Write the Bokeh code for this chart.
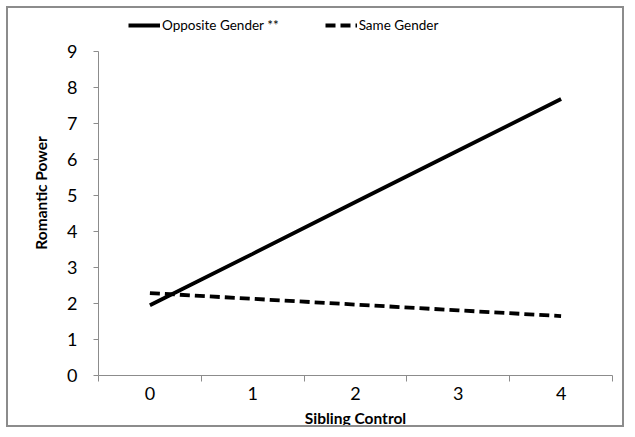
from bokeh.plotting import figure
from bokeh.models import FixedTicker, Legend, LegendItem, Range1d
from bokeh.embed import file_html
from bokeh.resources import INLINE

# Data
categories = [0, 1, 2, 3, 4]
cat_labels = ["0", "1", "2", "3", "4"]
opposite_gender = [1.95, 3.38, 4.82, 6.25, 7.68]
same_gender = [2.29, 2.13, 1.97, 1.81, 1.65]
y_ticks = [0, 1, 2, 3, 4, 5, 6, 7, 8, 9]

FONT = "Lato"
AXIS_GRAY = "#8c8c8c"

# frame extends above the top tick so the legend can sit inside it;
# the y axis line itself is bounded to 0..9
p = figure(width=618, height=421, output_backend="svg", toolbar_location=None,
           x_range=Range1d(-0.5, 4.5), y_range=Range1d(0, 10.14),
           min_border_left=90, min_border_right=14, min_border_top=2, min_border_bottom=54)
p.styles = {"border": "2px solid #8c8c8c", "margin-left": "6px", "margin-top": "6px"}
p.outline_line_color = None
p.xgrid.visible = False
p.ygrid.visible = False
p.background_fill_color = "white"
p.border_fill_color = "white"

r1 = p.line(categories, opposite_gender, line_color="black", line_width=3.8)
r2 = p.line(categories, same_gender, line_color="black", line_width=3.8, line_dash="10 5")

# x axis: labels centred on categories, tick marks between categories
xa = p.xaxis[0]
xa.ticker = FixedTicker(ticks=categories, minor_ticks=[c - 0.5 for c in categories] + [categories[-1] + 0.5])
xa.major_label_overrides = {c: l for c, l in zip(categories, cat_labels)}
xa.major_tick_out = 0
xa.major_tick_in = 0
xa.minor_tick_out = 6
xa.minor_tick_in = 0
xa.minor_tick_line_color = AXIS_GRAY
xa.axis_line_color = AXIS_GRAY
xa.major_label_text_font = FONT
xa.major_label_text_font_size = "18px"
xa.major_label_text_color = "black"
xa.major_label_standoff = 5
xa.axis_label = "Sibling Control"
xa.axis_label_text_font = FONT
xa.axis_label_text_font_style = "bold"
xa.axis_label_text_font_size = "15.5px"
xa.axis_label_text_color = "black"
xa.axis_label_standoff = 6

ya = p.yaxis[0]
ya.ticker = FixedTicker(ticks=y_ticks, minor_ticks=[])
ya.bounds = (y_ticks[0], y_ticks[-1])
ya.major_tick_out = 5
ya.major_tick_in = 0
ya.major_tick_line_color = AXIS_GRAY
ya.axis_line_color = AXIS_GRAY
ya.major_label_text_font = FONT
ya.major_label_text_font_size = "18px"
ya.major_label_text_color = "black"
ya.major_label_standoff = 16
ya.axis_label = "Romantic Power"
ya.axis_label_text_font = FONT
ya.axis_label_text_font_style = "bold"
ya.axis_label_text_font_size = "15.5px"
ya.axis_label_text_color = "black"
ya.axis_label_standoff = 14

legend = Legend(items=[LegendItem(label="Opposite Gender **", renderers=[r1]),
                       LegendItem(label="Same Gender", renderers=[r2])],
                orientation="horizontal", location=(30, 340),
                glyph_width=32, glyph_height=20, label_standoff=2, spacing=46,
                padding=0, margin=0, border_line_color=None, background_fill_alpha=0,
                label_text_font=FONT, label_text_font_size="13.5px", label_text_color="black")
p.add_layout(legend, "center")

open("out.html", "w").write(file_html(p, INLINE))
